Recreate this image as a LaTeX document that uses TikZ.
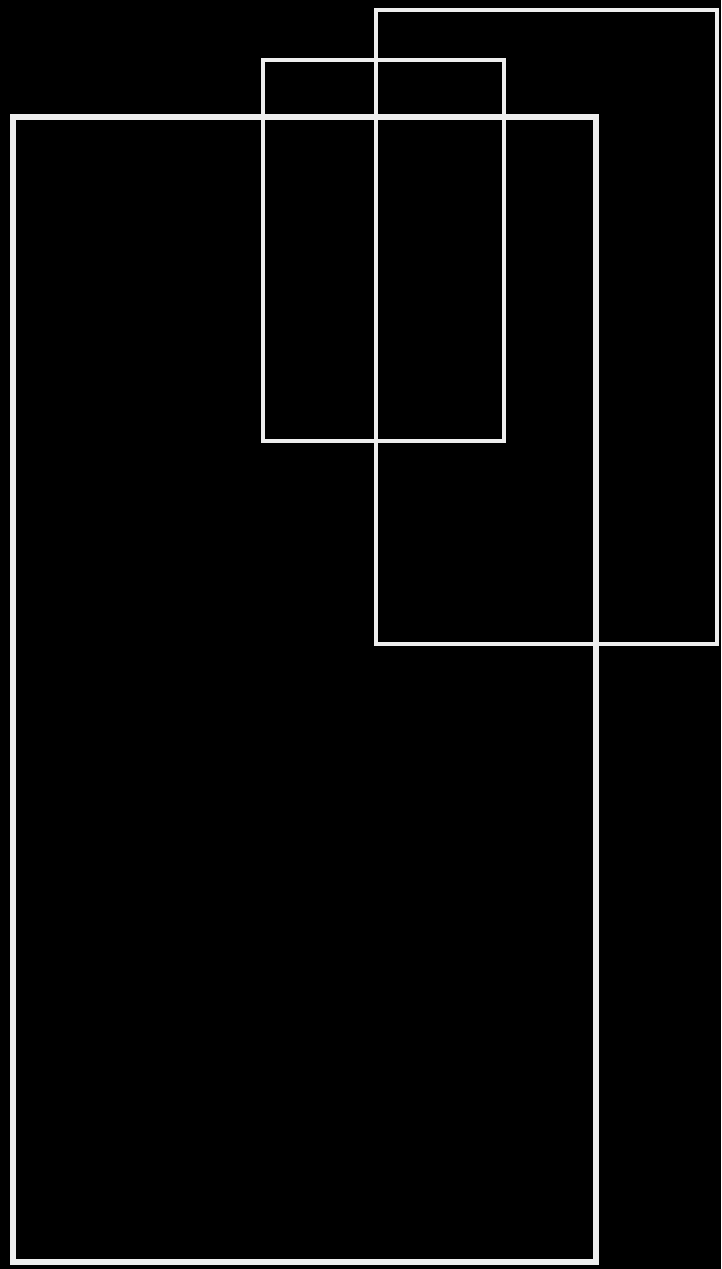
\documentclass[tikz,border=0pt]{standalone}
\definecolor{edge}{RGB}{238,238,238}
\begin{document}
\begin{tikzpicture}[x=1pt,y=-1pt,
  frame/.style={draw=edge,line join=miter}]
\fill[black] (0,0) rectangle (721,1269);
\useasboundingbox (0,0) rectangle (721,1269);
\draw[frame,line width=4pt] (376,10) rectangle (717,644);
\draw[frame,line width=4.5pt] (263,60) rectangle (504,441);
\draw[frame,line width=5.5pt] (13,117) rectangle (596,1262);
\end{tikzpicture}
\end{document}
